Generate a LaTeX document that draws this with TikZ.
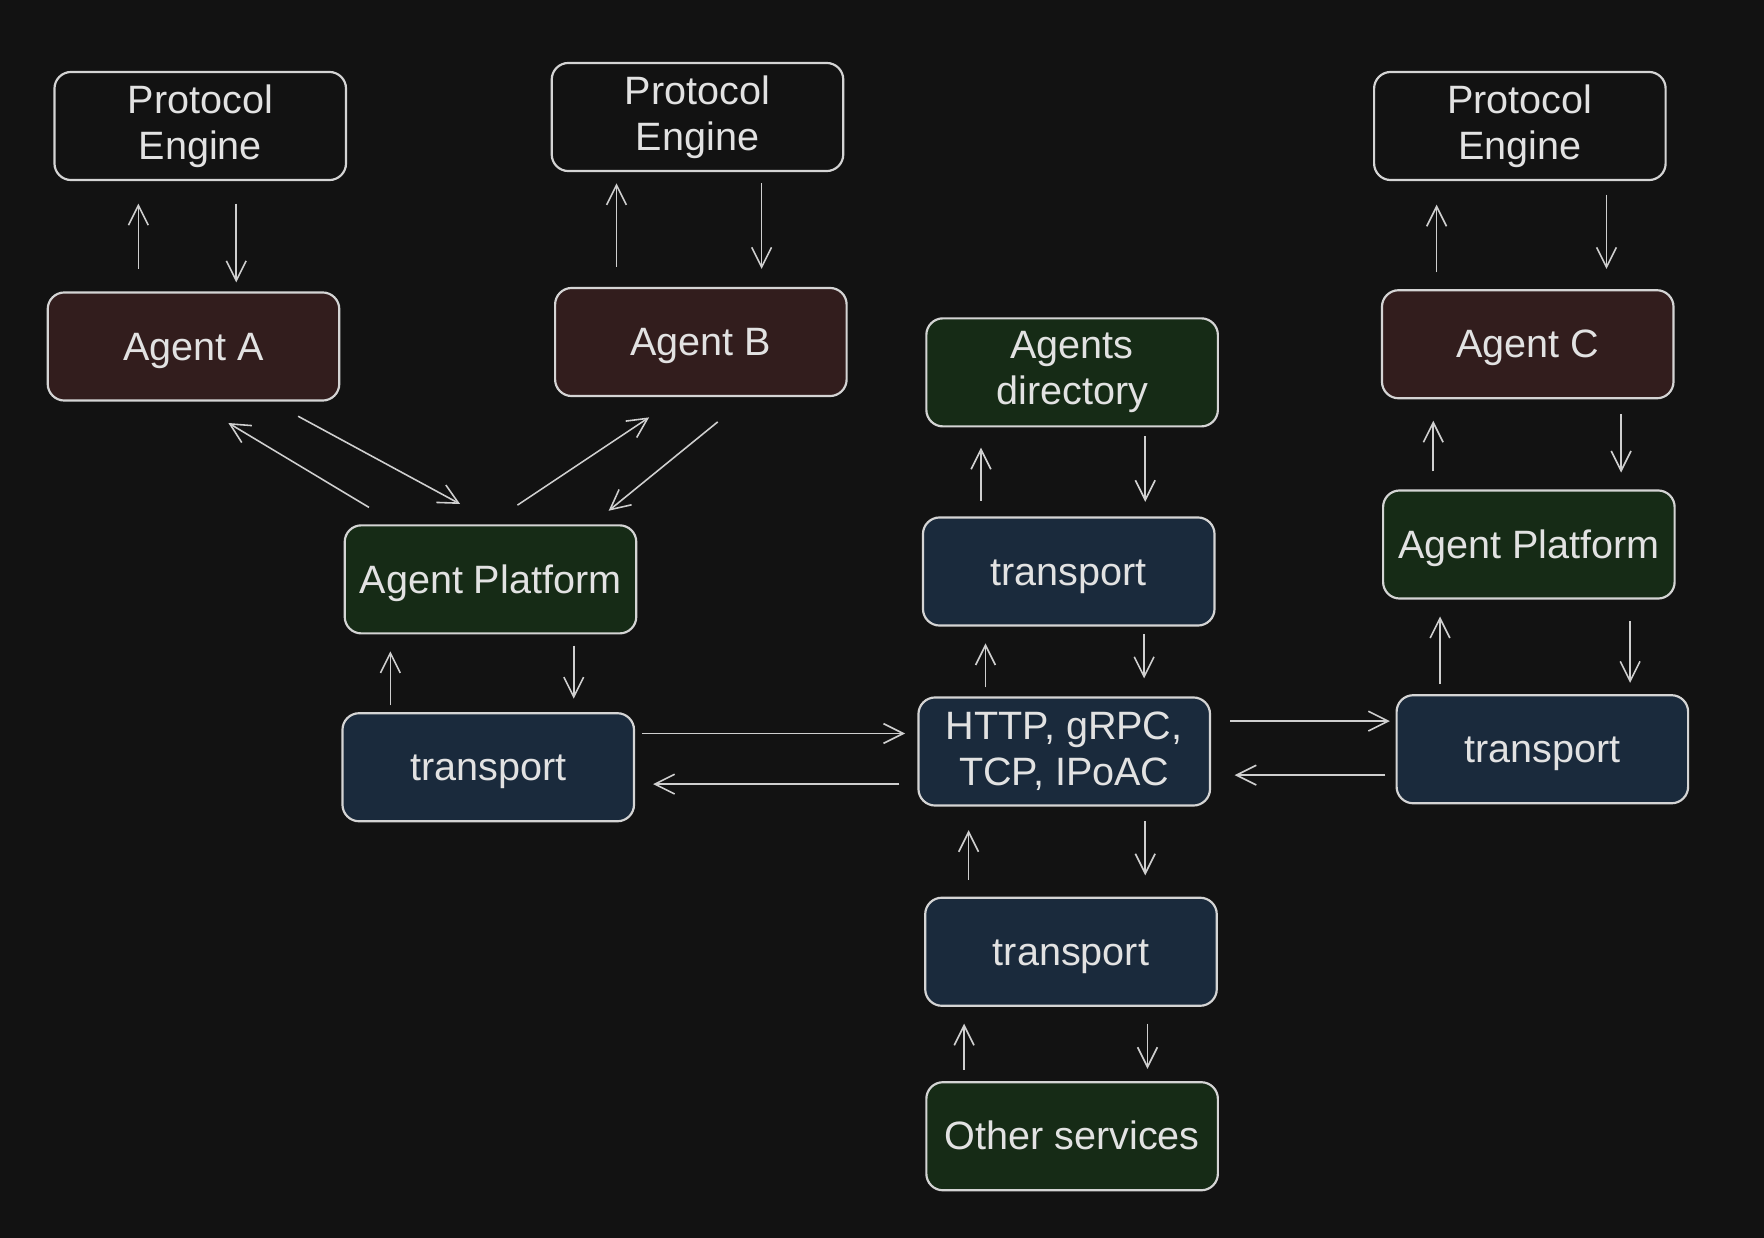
\documentclass[tikz,border=0pt]{standalone}
\usepackage{fontspec}
\setmainfont{Liberation Sans}
\usetikzlibrary{arrows.meta,positioning}

\definecolor{bgcol}{HTML}{121212}
\definecolor{linecol}{HTML}{D4D4D4}
\definecolor{txtcol}{HTML}{E2E2E2}
\definecolor{arrcol}{HTML}{CFCFCF}
\definecolor{agentfill}{HTML}{321D1D}
\definecolor{platfill}{HTML}{162B16}
\definecolor{transfill}{HTML}{1A2A3C}

\tikzset{
  box/.style={draw=linecol, line width=0.55pt, rounded corners=4.2pt,
    minimum width=2.59cm, minimum height=0.96cm, inner sep=2pt,
    text=txtcol, align=center, font=\fontsize{10}{11.6}\selectfont},
  oneline/.style={text height=0.9em, text depth=0.21em},
  engbox/.style={box},
  agentbox/.style={box, oneline, fill=agentfill},
  platbox/.style={box, fill=platfill},
  transbox/.style={box, fill=transfill},
  arr/.style={draw=arrcol, line width=0.4pt, -{Straight Barb[length=5pt,width=5pt]}}
}

\begin{document}
\begin{tikzpicture}[x=0.01cm,y=-0.01cm]
  \fill[bgcol] (0,0) rectangle (1568,1100);
  \useasboundingbox (0,0) rectangle (1568,1100);

  % engines
  \node[engbox] (peA) at (178,112) {Protocol\\Engine};
  \node[engbox] (peB) at (620,104) {Protocol\\Engine};
  \node[engbox] (peC) at (1351,112) {Protocol\\Engine};

  % agents
  \node[agentbox] (agA) at (172,308) {Agent A};
  \node[agentbox] (agB) at (623,304) {Agent B};
  \node[agentbox] (agC) at (1358,306) {Agent C};

  % platforms and services
  \node[platbox, oneline] (apL) at (436,515) {Agent Platform};
  \node[platbox, oneline] (apR) at (1359,484) {Agent Platform};
  \node[platbox] (dir) at (953,331) {Agents\\directory};
  \node[platbox, oneline] (oth) at (953,1010) {Other services};

  % transports
  \node[transbox, oneline] (tL) at (434,682) {transport};
  \node[transbox, oneline] (tD) at (950,508) {transport};
  \node[transbox, oneline] (tR) at (1371,666) {transport};
  \node[transbox, oneline] (tB) at (952,846) {transport};
  \node[transbox] (net) at (946,668) {HTTP, gRPC,\\TCP, IPoAC};

  % engine <-> agent
  \draw[arr] ([shift={(-49,-20)}]agA.north) -- ([shift={(-55,20)}]peA.south);
  \draw[arr] ([shift={(32,20)}]peA.south) -- ([shift={(38,-8)}]agA.north);
  \draw[arr] ([shift={(-75,-18)}]agB.north) -- ([shift={(-72,10)}]peB.south);
  \draw[arr] ([shift={(57,10)}]peB.south) -- ([shift={(54,-16)}]agB.north);
  \draw[arr] ([shift={(-81,-15)}]agC.north) -- ([shift={(-74,21)}]peC.south);
  \draw[arr] ([shift={(77,12)}]peC.south) -- ([shift={(70,-18)}]agC.north);

  % agents <-> left platform
  \draw[arr] ([shift={(-108,-15)}]apL.north) -- ([shift={(31,19)}]agA.south);
  \draw[arr] ([shift={(93,13)}]agA.south) -- ([shift={(-27,-18)}]apL.north);
  \draw[arr] ([shift={(24,-17)}]apL.north) -- ([shift={(-46,18)}]agB.south);
  \draw[arr] ([shift={(15,22)}]agB.south) -- ([shift={(105,-12)}]apL.north);

  % left platform <-> transport
  \draw[arr] ([shift={(-87,-6)}]tL.north) -- ([shift={(-89,15)}]apL.south);
  \draw[arr] ([shift={(74,10)}]apL.south) -- ([shift={(76,-12)}]tL.north);

  % transport <-> network
  \draw[arr] ([shift={(6,-30)}]tL.east) -- ([shift={(-11,-16)}]net.west);
  \draw[arr] ([shift={(-16,29)}]net.west) -- ([shift={(16,15)}]tL.east);
  \draw[arr] ([shift={(17,-27)}]net.east) -- ([shift={(-5,-25)}]tR.west);
  \draw[arr] ([shift={(-9,23)}]tR.west) -- ([shift={(21,21)}]net.east);

  % network <-> directory
  \draw[arr] ([shift={(-70,-8)}]net.north) -- ([shift={(-74,15)}]tD.south);
  \draw[arr] ([shift={(67,7)}]tD.south) -- ([shift={(71,-16)}]net.north);
  \draw[arr] ([shift={(-78,-14)}]tD.north) -- ([shift={(-81,18)}]dir.south);
  \draw[arr] ([shift={(65,8)}]dir.south) -- ([shift={(68,-13)}]tD.north);

  % right side
  \draw[arr] ([shift={(-91,-9)}]tR.north) -- ([shift={(-79,15)}]apR.south);
  \draw[arr] ([shift={(90,19)}]apR.south) -- ([shift={(78,-10)}]tR.north);
  \draw[arr] ([shift={(-85,-16)}]apR.north) -- ([shift={(-84,19)}]agC.south);
  \draw[arr] ([shift={(83,13)}]agC.south) -- ([shift={(82,-15)}]apR.north);

  % network <-> other services
  \draw[arr] ([shift={(-91,-15)}]tB.north) -- ([shift={(-85,21)}]net.south);
  \draw[arr] ([shift={(72,13)}]net.south) -- ([shift={(66,-19)}]tB.north);
  \draw[arr] ([shift={(-96,-10)}]oth.north) -- ([shift={(-95,15)}]tB.south);
  \draw[arr] ([shift={(68,15)}]tB.south) -- ([shift={(67,-11)}]oth.north);
\end{tikzpicture}
\end{document}
